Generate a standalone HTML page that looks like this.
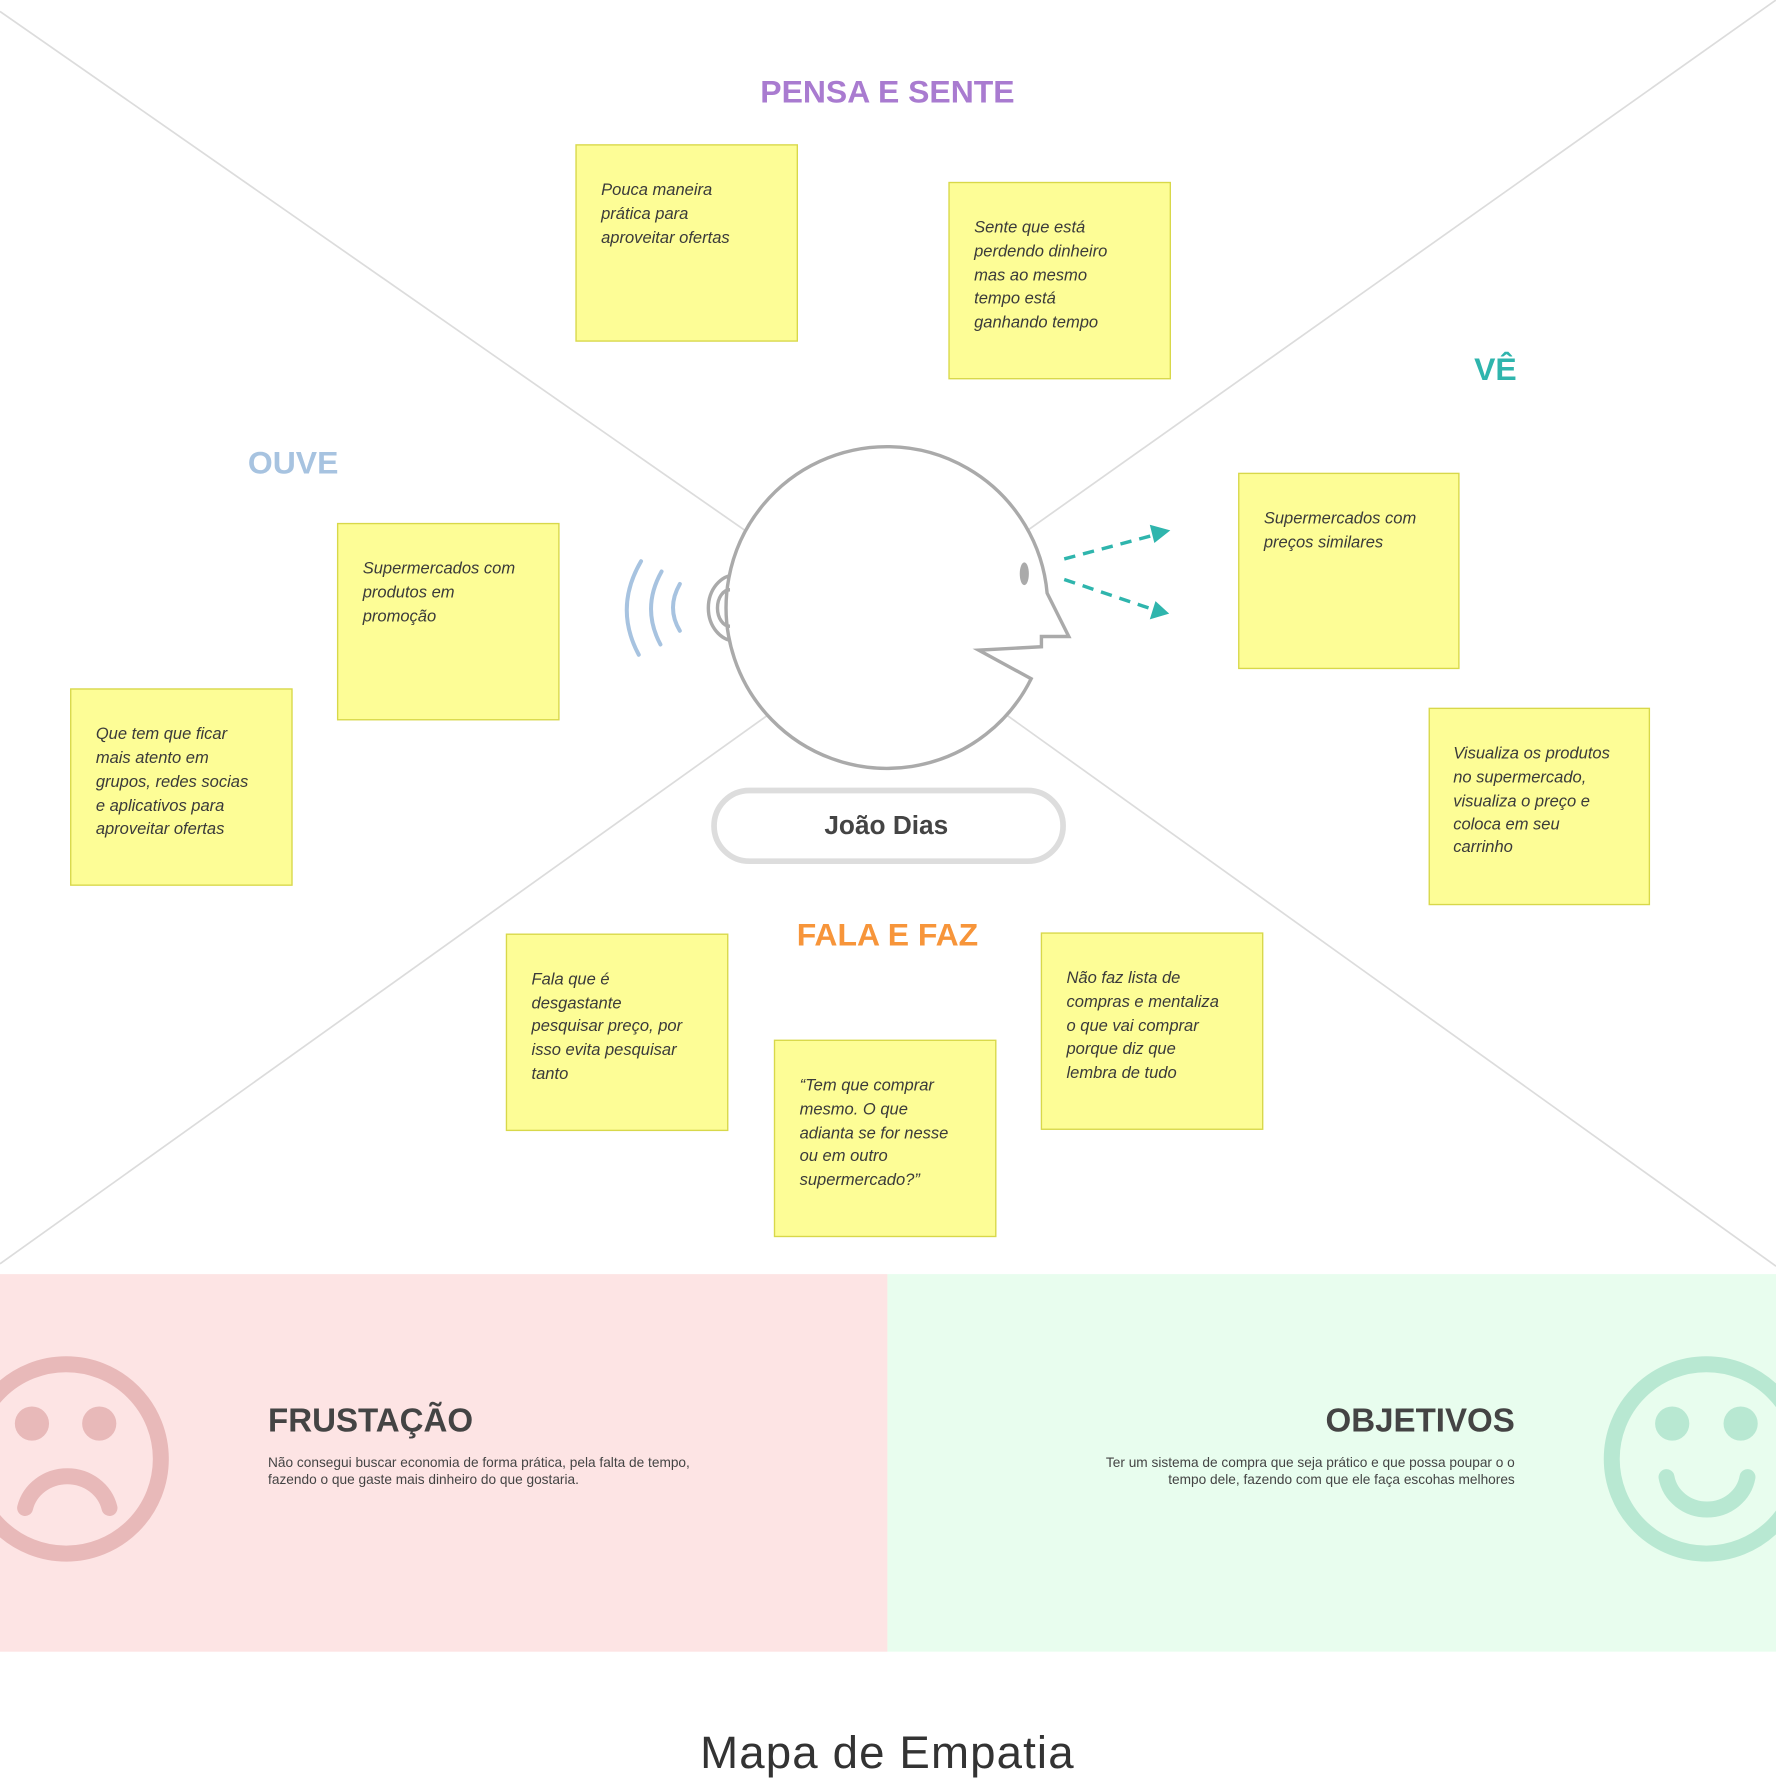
<!DOCTYPE html>
<html><head><meta charset="utf-8"><style>
html,body{margin:0;padding:0;background:#fff;}
svg{display:block;}
text{font-family:"Liberation Sans",sans-serif;}
.s{font-style:italic;font-size:14.5px;fill:#3a3a3a;}
.h{font-weight:bold;font-size:28px;text-anchor:middle;}
</style></head><body>
<svg width="1776" height="1788" viewBox="0 0 1557 1567.5" xmlns="http://www.w3.org/2000/svg">
<rect width="1557" height="1568" fill="#fff"/>
<g stroke="#dcdcdc" stroke-width="1.5">
<line x1="0" y1="10" x2="778" y2="552"/>
<line x1="1557" y1="0" x2="778" y2="552"/>
<line x1="0" y1="1108" x2="778" y2="552"/>
<line x1="1557" y1="1110" x2="778" y2="552"/>
</g>
<text class="h" x="778" y="90" fill="#a97bd0">PENSA E SENTE</text>
<text class="h" x="1311" y="333" fill="#2fb5ad">VÊ</text>
<text class="h" x="257" y="415" fill="#a7c3e0">OUVE</text>
<text class="h" x="778" y="829" fill="#f7953a">FALA E FAZ</text>

<g fill="#fdfd96" stroke="#d8d84a" stroke-width="1.2">
<rect x="505" y="127" width="194" height="172"/>
<rect x="832" y="160" width="194" height="172"/>
<rect x="1086" y="415" width="193" height="171"/>
<rect x="1253" y="621" width="193" height="172"/>
<rect x="296" y="459" width="194" height="172"/>
<rect x="62" y="604" width="194" height="172"/>
<rect x="444" y="819" width="194" height="172"/>
<rect x="679" y="912" width="194" height="172"/>
<rect x="913" y="818" width="194" height="172"/>
</g>
<g class="s">
<text class="s" x="527" y="171">Pouca maneira</text>
<text class="s" x="527" y="192">prática para</text>
<text class="s" x="527" y="213">aproveitar ofertas</text>
<text class="s" x="854" y="204">Sente que está</text>
<text class="s" x="854" y="225">perdendo dinheiro</text>
<text class="s" x="854" y="246">mas ao mesmo</text>
<text class="s" x="854" y="266">tempo está</text>
<text class="s" x="854" y="287">ganhando tempo</text>
<text class="s" x="1108" y="459">Supermercados com</text>
<text class="s" x="1108" y="480">preços similares</text>
<text class="s" x="1274" y="665">Visualiza os produtos</text>
<text class="s" x="1274" y="686">no supermercado,</text>
<text class="s" x="1274" y="707">visualiza o preço e</text>
<text class="s" x="1274" y="727">coloca em seu</text>
<text class="s" x="1274" y="747">carrinho</text>
<text class="s" x="318" y="503">Supermercados com</text>
<text class="s" x="318" y="524">produtos em</text>
<text class="s" x="318" y="545">promoção</text>
<text class="s" x="84" y="648">Que tem que ficar</text>
<text class="s" x="84" y="669">mais atento em</text>
<text class="s" x="84" y="690">grupos, redes socias</text>
<text class="s" x="84" y="711">e aplicativos para</text>
<text class="s" x="84" y="731">aproveitar ofertas</text>
<text class="s" x="466" y="863">Fala que é</text>
<text class="s" x="466" y="884">desgastante</text>
<text class="s" x="466" y="904">pesquisar preço, por</text>
<text class="s" x="466" y="925">isso evita pesquisar</text>
<text class="s" x="466" y="946">tanto</text>
<text class="s" x="701" y="956">“Tem que comprar</text>
<text class="s" x="701" y="977">mesmo. O que</text>
<text class="s" x="701" y="998">adianta se for nesse</text>
<text class="s" x="701" y="1018">ou em outro</text>
<text class="s" x="701" y="1039">supermercado?”</text>
<text class="s" x="935" y="862">Não faz lista de</text>
<text class="s" x="935" y="883">compras e mentaliza</text>
<text class="s" x="935" y="904">o que vai comprar</text>
<text class="s" x="935" y="924">porque diz que</text>
<text class="s" x="935" y="945">lembra de tudo</text>
</g>

<!-- head -->
<path d="M645,504 A24 29 0 0 0 645,562" fill="#fff" stroke="#aaa" stroke-width="3"/>
<path d="M918,520 L937,558 L913,558 L913,567 L858,570 L904,595 A141 141 0 1 1 918,520 Z" fill="#fff" stroke="#aaa" stroke-width="3" stroke-linejoin="miter"/>
<path d="M640,517 A11 16 0 0 0 640,549" fill="none" stroke="#aaa" stroke-width="3"/>
<ellipse cx="898" cy="503" rx="4" ry="10" fill="#aaa"/>
<g fill="none" stroke="#a7c3e0" stroke-width="3.5" stroke-linecap="round">
<path d="M562,492 Q538,533 560,574"/>
<path d="M580,501 Q562,533 579,565"/>
<path d="M596,512 Q584,533 596,553"/>
</g>
<g stroke="#2fb5ad" stroke-width="3" stroke-dasharray="10,7">
<line x1="933" y1="490" x2="1012" y2="469"/>
<line x1="933" y1="508" x2="1010" y2="534"/>
</g>
<polygon points="1026,465 1008,460 1012,476" fill="#2fb5ad"/>
<polygon points="1025,538 1013,527 1008,543" fill="#2fb5ad"/>

<rect x="626" y="693" width="306" height="62" rx="31" fill="#fff" stroke="#ddd" stroke-width="5"/>
<text x="777" y="731" text-anchor="middle" font-weight="bold" font-size="23" fill="#444">João Dias</text>

<!-- bottom -->
<rect x="0" y="1117" width="778" height="331" fill="#fde4e4"/>
<rect x="778" y="1117" width="779" height="331" fill="#e8fdee"/>
<circle cx="58" cy="1279" r="83" fill="none" stroke="#e8b9b9" stroke-width="14"/>
<circle cx="28" cy="1248" r="15" fill="#e8b9b9"/>
<circle cx="87" cy="1248" r="15" fill="#e8b9b9"/>
<path d="M22,1322 A38 36 0 0 1 96,1322" fill="none" stroke="#e8b9b9" stroke-width="14" stroke-linecap="round"/>
<circle cx="1496" cy="1279" r="83" fill="none" stroke="#b8e8d2" stroke-width="14"/>
<circle cx="1466" cy="1248" r="15" fill="#b8e8d2"/>
<circle cx="1526" cy="1248" r="15" fill="#b8e8d2"/>
<path d="M1461,1295 A36 34 0 0 0 1532,1295" fill="none" stroke="#b8e8d2" stroke-width="14" stroke-linecap="round"/>

<text x="235" y="1255" font-weight="bold" font-size="29" fill="#444">FRUSTAÇÃO</text>
<text x="235" y="1286" font-size="12" fill="#444">Não consegui buscar economia de forma prática, pela falta de tempo,</text>
<text x="235" y="1301" font-size="12" fill="#444">fazendo o que gaste mais dinheiro do que gostaria.</text>
<text x="1328" y="1255" text-anchor="end" font-weight="bold" font-size="29" fill="#444">OBJETIVOS</text>
<text x="1328" y="1286" text-anchor="end" font-size="12" fill="#444">Ter um sistema de compra que seja prático e que possa poupar o o</text>
<text x="1328" y="1301" text-anchor="end" font-size="12" fill="#444">tempo dele, fazendo com que ele faça escohas melhores</text>

<text x="778" y="1550" text-anchor="middle" font-size="40" fill="#333" letter-spacing="1">Mapa de Empatia</text>
</svg>
</body></html>
